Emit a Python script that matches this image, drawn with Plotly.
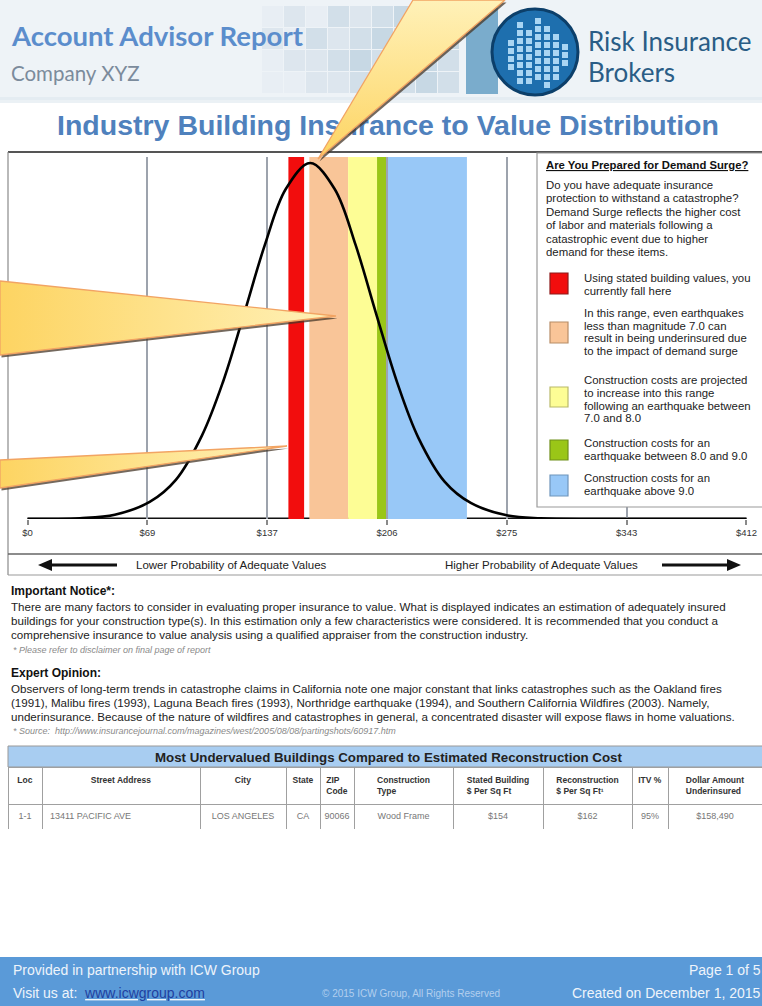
import plotly.graph_objects as go

W, H = 762, 1006

# ---- distribution chart data ----
cost_x = [0, 15, 30, 50, 70, 85, 100, 112, 124, 136, 148, 162, 176, 188, 200, 212, 224,
          239, 254, 274, 294, 324, 360, 412]
density = [0.000, 0.000, 0.002, 0.012, 0.048, 0.110, 0.235, 0.385, 0.575, 0.770, 0.927,
           1.000, 0.927, 0.770, 0.573, 0.381, 0.228, 0.105, 0.045, 0.011, 0.002, 0.000,
           0.000, 0.000]

tick_vals = [0, 68.67, 137.33, 206, 274.67, 343.33, 412]
tick_text = ["$0", "$69", "$137", "$206", "$275", "$343", "$412"]

band_lo = [149.5, 161.5, 183.7, 200.3, 206.0]
band_hi = [158.5, 183.7, 200.3, 206.0, 251.8]
band_colors = ["#f20d0d", "#f9c598", "#fdfd95", "#9ac617", "#98c8f7"]
band_edges = ["#8e1b1b", "#b88d67", "#b9b96a", "#6f8f1a", "#6f95bb"]

legend_lines = [
    ["Using stated building values, you", "currently fall here"],
    ["In this range, even earthquakes", "less than magnitude 7.0 can",
     "result in being underinsured due", "to the impact of demand surge"],
    ["Construction costs are projected", "to increase into this range",
     "following an earthquake between", "7.0 and 8.0"],
    ["Construction costs for an", "earthquake between 8.0 and 9.0"],
    ["Construction costs for an", "earthquake above 9.0"],
]
legend_line_y = [[278, 290.5], [313, 325.5, 338, 350.5], [380, 393, 405.5, 418],
                 [443, 455.5], [478, 490.5]]
swatch_y = [(273, 294), (322, 343), (387, 407), (440, 460), (475, 496)]

surge_lines = ["Do you have adequate insurance", "protection to withstand a catastrophe?",
               "Demand Surge reflects the higher cost", "of labor and materials following a",
               "catastrophic event due to higher", "demand for these items."]

notice_lines = [
    "There are many factors to consider in evaluating proper insurance to value. What is "
    "displayed indicates an estimation of adequately insured",
    "buildings for your construction type(s). In this estimation only a few characteristics "
    "were considered. It is recommended that you conduct a",
    "comprehensive insurance to value analysis using a qualified appraiser from the "
    "construction industry.",
]
opinion_lines = [
    "Observers of long-term trends in catastrophe claims in California note one major "
    "constant that links catastrophes such as the Oakland fires",
    "(1991), Malibu fires (1993), Laguna Beach fires (1993), Northridge earthquake (1994), "
    "and Southern California Wildfires (2003). Namely,",
    "underinsurance. Because of the nature of wildfires and catastrophes in general, a "
    "concentrated disaster will expose flaws in home valuations.",
]

# ---- table data ----
tbl_cols = ["Loc", "Street Address", "City", "State", "ZIP<br>Code", "Construction<br>Type",
            "Stated Building<br>$ Per Sq Ft", "Reconstruction<br>$ Per Sq Ft¹", "ITV&nbsp;%",
            "Dollar Amount<br>Underinsured"]
tbl_row = ["1-1", "13411 PACIFIC AVE", "LOS ANGELES", "CA", "90066", "Wood Frame",
           "$154", "$162", "95%", "$158,490"]
tbl_widths = [34, 158, 86, 34, 34, 99, 90, 89, 36, 94]

ARIAL = "Liberation Sans, Arial, sans-serif"
LATO = "Lato, Open Sans, sans-serif"

fig = go.Figure()

Y_TOP = 1.017

# baseline under the colour bands
fig.add_shape(type="line", xref="x", yref="y", x0=0, x1=412, y0=0, y1=0,
              line=dict(color="#111", width=3.2), layer="below")
for lo, hi, c in zip(band_lo, band_hi, band_colors):
    fig.add_shape(type="rect", xref="x", yref="y", x0=lo, x1=hi, y0=-0.008, y1=Y_TOP,
                  fillcolor=c, line_width=0, layer="below")

fig.add_trace(go.Scatter(x=cost_x, y=density, mode="lines", xaxis="x", yaxis="y",
                         line=dict(color="#000", width=2.6, shape="spline", smoothing=1.0),
                         hoverinfo="skip", showlegend=False))


# ---- page decoration in pixel space (x2/y2) ----
def rect(x0, y0, x1, y1, fill=None, line=None, lw=1, layer="below"):
    fig.add_shape(type="rect", xref="x2", yref="y2", x0=x0, y0=y0, x1=x1, y1=y1,
                  fillcolor=fill if fill else "rgba(0,0,0,0)",
                  line=dict(color=line if line else "rgba(0,0,0,0)", width=lw if line else 0),
                  layer=layer)


def hline(x0, x1, y, color, w=1):
    fig.add_shape(type="line", xref="x2", yref="y2", x0=x0, x1=x1, y0=y, y1=y,
                  line=dict(color=color, width=w), layer="below")


def vline(x, y0, y1, color, w=1):
    fig.add_shape(type="line", xref="x2", yref="y2", x0=x, x1=x, y0=y0, y1=y1,
                  line=dict(color=color, width=w), layer="below")


def text(x, y, s, size=10, color="#222", family=ARIAL, xa="left", ya="middle"):
    fig.add_annotation(xref="x2", yref="y2", x=x, y=y, text=s, showarrow=False,
                       xanchor=xa, yanchor=ya, align="left", borderpad=0,
                       font=dict(size=size, color=color, family=family))


# header banner
rect(0, 0, W, 100, fill="#eef3f7")
rect(0, 97, W, 103, fill="rgba(222,231,239,0.6)")
shades = ["#e8eef4", "#dde6ee", "#d2dfe9", "#c7d8e4"]
mosaic = [[0, 1, 0, 2, 1, 2, 3, 2, 3],
          [1, 0, 2, 1, 2, 3, 2, 3, 3],
          [0, 1, 1, 2, 3, 2, 3, 3, 2],
          [0, 0, 1, 1, 2, 2, 2, 3, 2]]
for r, row in enumerate(mosaic):
    for c, s in enumerate(row):
        rect(262 + c * 22, 6 + r * 22, 262 + c * 22 + 21, 6 + r * 22 + 21, fill=shades[s])
rect(466, 8, 498, 94, fill="#7aaccc")
fig.add_shape(type="circle", xref="x2", yref="y2", x0=492, x1=578, y0=9, y1=95,
              fillcolor="#1e6fae", line=dict(color="#0c3f6a", width=3), layer="below")
cols = [(508, 40, 72), (517, 22, 82), (526, 30, 86), (535, 18, 80), (544, 26, 84),
        (553, 34, 76), (562, 44, 66)]
for cx, top, bot in cols:
    yy = top
    while yy < bot:
        rect(cx, yy, cx + 6, yy + 6, fill="#a9d5f3")
        yy += 8
text(10, 35, "<b>Account Advisor Report</b>", size=27.5, color="#5b8dcc", family=LATO)
text(10, 73, "Company XYZ", size=20.5, color="#7b8b9c", family=LATO)
text(587, 41, "Risk Insurance", size=26, color="#2a5d86", family=LATO)
text(587, 72, "Brokers", size=26, color="#2a5d86", family=LATO)

# chart frame
hline(8, W, 152, "#555", 2)
vline(8, 152, 575, "#8a8a8a", 1.2)
hline(8, W, 554, "#666", 1.5)
hline(8, W, 575, "#9a9a9a", 1.2)

# legend box
rect(537, 153, W + 10, 507, fill="#ffffff", line="#9a9a9a", lw=1.2)
text(545, 165, "<b><u>Are You Prepared for Demand Surge?</u></b>", size=11.3, color="#111")
for i, ln in enumerate(surge_lines):
    text(545, 185 + i * 13.4, ln, size=11.4, color="#222")
for c, e, lines, ys, (s0, s1) in zip(band_colors, band_edges, legend_lines,
                                      legend_line_y, swatch_y):
    rect(550, s0, 568, s1, fill=c, line=e, lw=1.2)
    for ln, yy in zip(lines, ys):
        text(583, yy, ln, size=11.4, color="#222")

# probability arrows
fig.add_shape(type="line", xref="x2", yref="y2", x0=50, x1=117, y0=565, y1=565,
              line=dict(color="#111", width=3), layer="below")
fig.add_shape(type="path", xref="x2", yref="y2", path="M 38 565 L 52 559 L 52 571 Z",
              fillcolor="#111", line_width=0, layer="below")
fig.add_shape(type="line", xref="x2", yref="y2", x0=662, x1=729, y0=565, y1=565,
              line=dict(color="#111", width=3), layer="below")
fig.add_shape(type="path", xref="x2", yref="y2", path="M 741 565 L 727 559 L 727 571 Z",
              fillcolor="#111", line_width=0, layer="below")
text(135, 565, "Lower Probability of Adequate Values", size=11.5, color="#222")
text(444, 565, "Higher Probability of Adequate Values", size=11.5, color="#222")

# chart title (a text trace so the callout pointer can sit above it)
fig.add_trace(go.Scatter(x=[388], y=[128], mode="text", xaxis="x2", yaxis="y2",
                         text=["<b>Industry Building Insurance to Value Distribution</b>"],
                         textfont=dict(size=28.5, color="#4f81bd", family=ARIAL),
                         hoverinfo="skip", showlegend=False))

# callout pointers
wedges = [
    ([413, 505, 318], [0, 0, 159], "vertical"),
    ([0, 336, 0], [281, 316, 355], "horizontal"),
    ([0, 287, 0], [460, 446, 488], "horizontal"),
]
for xs, ys, gdir in wedges:
    fig.add_trace(go.Scatter(x=[v + 1.5 for v in xs] + [xs[0] + 1.5],
                             y=[v + 2.5 for v in ys] + [ys[0] + 2.5],
                             mode="lines", fill="toself", fillcolor="rgba(70,55,40,0.75)",
                             line=dict(width=0), xaxis="x2", yaxis="y2",
                             hoverinfo="skip", showlegend=False))
    fig.add_trace(go.Scatter(x=xs + [xs[0]], y=ys + [ys[0]], mode="lines", fill="toself",
                             fillgradient=dict(type=gdir,
                                               colorscale=[[0, "#fdd462"], [1, "#fff1b8"]]),
                             line=dict(color="#f2a463", width=1.3), xaxis="x2", yaxis="y2",
                             hoverinfo="skip", showlegend=False))

# notice texts
text(10, 591, "<b>Important Notice*:</b>", size=12, color="#111")
for i, ln in enumerate(notice_lines):
    text(10, 606.5 + i * 13.8, ln, size=11.6, color="#222")
text(12, 650, "<i>* Please refer to disclaimer on final page of report</i>", size=9,
     color="#8a8a8a")
text(10, 673, "<b>Expert Opinion:</b>", size=12, color="#111")
for i, ln in enumerate(opinion_lines):
    text(10, 688.5 + i * 13.8, ln, size=11.6, color="#222")
text(12, 731, "<i>* Source:  http://www.insurancejournal.com/magazines/west/2005/08/08/"
     "partingshots/60917.htm</i>", size=9, color="#8a8a8a")

# table title band
rect(8, 746, W + 5, 767, fill="#a8cdf1", line="#999", lw=1)
text(388, 757, "<b>Most Undervalued Buildings Compared to Estimated Reconstruction Cost</b>",
     size=13.3, color="#222", xa="center")

fig.add_trace(go.Table(
    domain=dict(x=[8 / W, 1], y=[1 - 829 / H, 1 - 767 / H]),
    columnwidth=tbl_widths,
    header=dict(values=["<b>%s</b>" % c for c in tbl_cols], height=24,
                fill_color="#ffffff", line=dict(color="#a0a0a0", width=1),
                font=dict(size=8.5, color="#333", family=ARIAL), align="center"),
    cells=dict(values=[[v] for v in tbl_row], height=38,
               fill_color="#ffffff", line=dict(color="#a0a0a0", width=1),
               font=dict(size=9, color="#777", family=ARIAL),
               align=["center", "left"] + ["center"] * 8),
))

# footer bar
rect(0, 957, W, H, fill="#5a9ad8")
text(12, 970, "Provided in partnership with ICW Group", size=14, color="#eef4fb")
text(12, 993, "Visit us at:  <u><span style='color:#1f3f9f'>www.icwgroup.com</span></u>",
     size=14, color="#eef4fb")
text(411, 993, "© 2015 ICW Group, All Rights Reserved", size=10, color="#b3cfee", xa="center")
text(762, 970, "Page 1 of 5", size=14, color="#eef4fb", xa="right")
text(762, 993, "Created on December 1, 2015", size=14, color="#eef4fb", xa="right")

fig.update_layout(
    width=W, height=H, margin=dict(l=0, r=0, t=0, b=0, autoexpand=False),
    paper_bgcolor="#ffffff", plot_bgcolor="rgba(0,0,0,0)", showlegend=False,
    xaxis=dict(domain=[27 / W, 747 / W], range=[-0.3, 412.3], tickvals=tick_vals,
               ticktext=tick_text, ticks="outside", ticklen=5, tickwidth=1.5,
               tickcolor="#8a8a8a", showgrid=True, gridcolor="#9da3ad", gridwidth=1.5,
               zeroline=False, showline=False, fixedrange=True, automargin=False,
               tickfont=dict(size=9.5, color="#333", family=ARIAL)),
    yaxis=dict(domain=[1 - 519 / H, 1 - 157 / H], range=[0, Y_TOP], visible=False,
               fixedrange=True),
    xaxis2=dict(domain=[0, 1], range=[0, W], visible=False, fixedrange=True, anchor="y2"),
    yaxis2=dict(domain=[0, 1], range=[H, 0], visible=False, fixedrange=True, anchor="x2"),
)

fig.write_html("out.html", config={"responsive": False},
               post_script="document.body.style.margin='0';"
                           "document.body.style.overflow='hidden';")
